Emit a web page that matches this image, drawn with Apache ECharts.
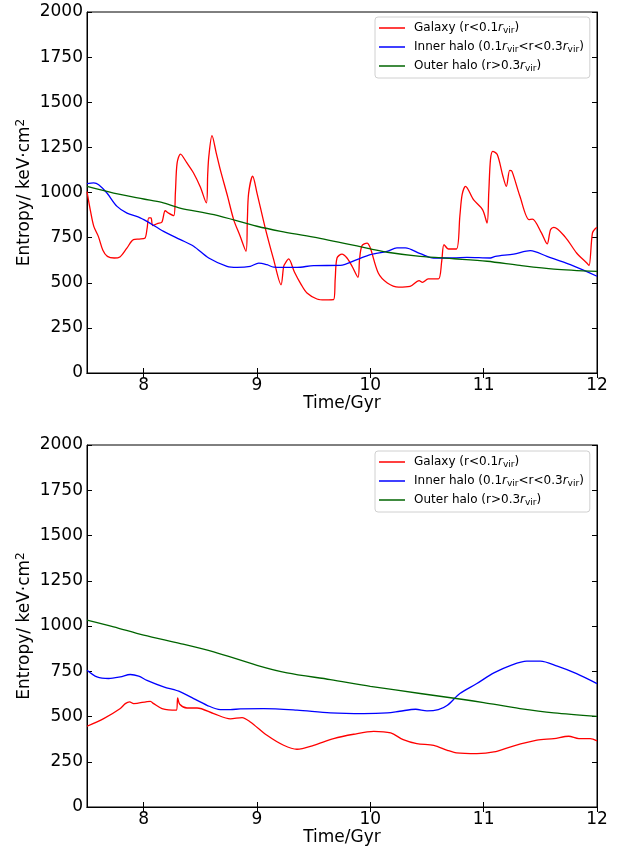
<!DOCTYPE html>
<html>
<head>
<meta charset="utf-8">
<script src="https://cdn.jsdelivr.net/npm/echarts@6/dist/echarts.min.js"></script>
<style>
html,body{margin:0;padding:0;background:#fff;}
#chart{width:622px;height:847px;}
</style>
</head>
<body>
<div id="chart"></div>
<script>
// ---- data (time in Gyr, entropy in keV cm^2) ----
const xTicks = [8, 9, 10, 11, 12];
const yTicks = [0, 250, 500, 750, 1000, 1250, 1500, 1750, 2000];
const seriesNames = ['Galaxy', 'Inner halo', 'Outer halo'];

const topGalaxy = [[7.5,1005],[7.53,900],[7.56,812],[7.6,757],[7.64,680],[7.68,646],[7.74,637],[7.79,643],[7.85,690],[7.91,739],[7.96,742],[8.01,746],[8.03,800],[8.045,859],[8.065,859],[8.08,816],[8.12,828],[8.16,835],[8.19,899],[8.22,886],[8.265,872],[8.28,1000],[8.295,1163],[8.325,1213],[8.38,1165],[8.44,1108],[8.5,1030],[8.553,942],[8.565,1100],[8.575,1200],[8.603,1315],[8.64,1220],[8.676,1127],[8.74,980],[8.794,850],[8.85,760],[8.903,674],[8.915,850],[8.926,995],[8.962,1090],[9.0,997],[9.07,810],[9.147,628],[9.212,489],[9.235,590],[9.25,609],[9.279,632],[9.33,560],[9.39,490],[9.441,443],[9.529,410],[9.6,405],[9.676,406],[9.69,520],[9.706,637],[9.75,659],[9.794,637],[9.84,590],[9.891,530],[9.905,630],[9.926,705],[9.971,720],[10.0,692],[10.07,554],[10.15,499],[10.25,476],[10.35,480],[10.43,512],[10.46,502],[10.51,521],[10.6,521],[10.63,620],[10.65,711],[10.69,687],[10.76,687],[10.79,870],[10.81,988],[10.84,1034],[10.91,960],[10.99,905],[11.03,831],[11.045,1000],[11.06,1182],[11.08,1228],[11.12,1210],[11.17,1090],[11.2,1034],[11.23,1123],[11.25,1117],[11.32,979],[11.4,850],[11.43,853],[11.51,776],[11.56,715],[11.59,794],[11.62,807],[11.72,753],[11.82,665],[11.91,609],[11.93,595],[11.96,776],[11.99,803],[12.0,805]];
const topInner = [[7.5,1049],[7.559,1053],[7.603,1043],[7.676,997],[7.765,923],[7.853,886],[7.956,864],[8.029,840],[8.176,785],[8.324,739],[8.441,702],[8.574,637],[8.735,591],[8.824,585],[8.941,591],[9.015,609],[9.088,600],[9.147,587],[9.353,585],[9.5,595],[9.735,596],[9.882,628],[10.0,656],[10.147,674],[10.235,693],[10.309,693],[10.441,661],[10.559,637],[10.735,637],[10.853,641],[11.059,637],[11.103,646],[11.265,659],[11.412,678],[11.559,646],[11.765,600],[12.0,536]];
const topOuter = [[7.5,1034],[7.735,997],[8.0,964],[8.16,945],[8.32,914],[8.62,877],[9.0,813],[9.21,785],[9.5,753],[10.0,688],[10.15,669],[10.44,646],[10.74,633],[11.03,619],[11.32,596],[11.62,576],[12.0,563]];

const botGalaxy = [[7.5,446],[7.647,488],[7.794,544],[7.838,571],[7.876,581],[7.912,571],[8.059,584],[8.088,571],[8.162,544],[8.288,535],[8.3,603],[8.318,568],[8.382,547],[8.471,547],[8.618,516],[8.765,487],[8.868,494],[8.941,470],[9.088,396],[9.235,341],[9.353,319],[9.5,341],[9.676,378],[9.853,402],[10.03,418],[10.18,409],[10.29,372],[10.41,350],[10.56,341],[10.68,313],[10.76,299],[10.94,295],[11.09,304],[11.26,337],[11.47,369],[11.62,378],[11.75,391],[11.84,378],[11.94,378],[12.0,365]];
const botInner = [[7.5,756],[7.588,719],[7.691,710],[7.794,719],[7.882,732],[7.956,723],[8.029,700],[8.176,664],[8.324,636],[8.441,599],[8.559,562],[8.676,538],[8.765,538],[8.853,542],[9.059,544],[9.353,535],[9.647,520],[9.941,516],[10.15,520],[10.26,529],[10.4,540],[10.5,531],[10.6,538],[10.68,562],[10.79,627],[10.94,682],[11.09,741],[11.24,783],[11.38,806],[11.5,806],[11.65,778],[11.82,737],[12.0,682]];
const botOuter = [[7.5,1032],[7.735,995],[8.0,949],[8.324,903],[8.618,857],[9.0,783],[9.265,741],[9.647,704],[10.0,667],[10.44,627],[10.82,594],[11.0,577],[11.32,544],[11.62,520],[12.0,501]];

// ---- styling ----
const FONT = 'DejaVu Sans';
const colors = {'Galaxy':'#ff0000','Inner halo':'#0000ff','Outer halo':'#006400'};
const legendLabels = {
  'Galaxy': 'Galaxy (r<0.1{i|r}{s|vir})',
  'Inner halo': 'Inner halo (0.1{i|r}{s|vir}<r<0.3{i|r}{s|vir})',
  'Outer halo': 'Outer halo (r>0.3{i|r}{s|vir})'
};

const grids = [
  {left: 87, width: 510, top: 12, height: 361, show: true, borderColor: '#000', borderWidth: 1},
  {left: 87, width: 510, top: 445, height: 362, show: true, borderColor: '#000', borderWidth: 1}
];

function xAxes(gi) {
  return [
    {type:'value', gridIndex: gi, min: 7.5, max: 12, position: 'bottom',
     name: 'Time/Gyr', nameLocation: 'middle', nameGap: 21,
     nameTextStyle: {fontFamily: FONT, fontSize: 17, color: '#000'},
     axisLine: {show: true, lineStyle: {color: '#000', width: 1}},
     axisTick: {show: true, inside: true, length: 5, customValues: xTicks, lineStyle: {color: '#000'}},
     axisLabel: {show: true, customValues: xTicks, margin: 4, fontFamily: FONT, fontSize: 17, color: '#000'},
     splitLine: {show: false}},
    {type:'value', gridIndex: gi, min: 7.5, max: 12, position: 'top',
     axisLine: {show: true, lineStyle: {color: '#000', width: 1}},
     axisTick: {show: true, inside: true, length: 5, customValues: xTicks, lineStyle: {color: '#000'}},
     axisLabel: {show: false}, splitLine: {show: false}}
  ];
}
function yAxes(gi) {
  return [
    {type:'value', gridIndex: gi, min: 0, max: 2000, interval: 250, position: 'left',
     name: 'Entropy/ keV\u00b7cm{sup|2}', nameLocation: 'middle', nameGap: 52, nameRotate: 90,
     nameMoveOverlap: false,
     nameTextStyle: {fontFamily: FONT, fontSize: 17, color: '#000',
       rich: {sup: {fontFamily: FONT, fontSize: 12, color: '#000', padding: [0,0,8,0]}}},
     axisLine: {show: true, lineStyle: {color: '#000', width: 1}},
     axisTick: {show: true, inside: true, length: 5, lineStyle: {color: '#000'}},
     axisLabel: {show: true, margin: 4, fontFamily: FONT, fontSize: 17, color: '#000',
       formatter: function (v) { return String(v); }},
     splitLine: {show: false}},
    {type:'value', gridIndex: gi, min: 0, max: 2000, interval: 250, position: 'right',
     axisLine: {show: true, lineStyle: {color: '#000', width: 1}},
     axisTick: {show: true, inside: true, length: 5, lineStyle: {color: '#000'}},
     axisLabel: {show: false}, splitLine: {show: false}}
  ];
}

function mkSeries(name, data, gi) {
  return {
    type: 'line', name: name, data: data,
    xAxisIndex: gi * 2, yAxisIndex: gi * 2,
    showSymbol: false, symbol: 'none', smooth: 0.3,
    lineStyle: {color: colors[name], width: 1.3},
    itemStyle: {color: colors[name]},
    animation: false, z: 3
  };
}

function mkLegend(top) {
  return {
    show: true, orient: 'vertical', left: 375, top: top,
    data: seriesNames, icon: 'rect', itemWidth: 26, itemHeight: 1.5, itemGap: 6,
    padding: [5, 6, 5, 4],
    backgroundColor: '#fff', borderColor: '#d0d0d0', borderWidth: 1, borderRadius: 3,
    formatter: function (n) { return legendLabels[n]; },
    textStyle: {fontFamily: FONT, fontSize: 12, color: '#000', padding: [0, 0, 0, 4],
      rich: {
        i: {fontFamily: FONT, fontSize: 12, fontStyle: 'italic', color: '#000'},
        s: {fontFamily: FONT, fontSize: 9, color: '#000', padding: [5, 0, 0, 0]}
      }}
  };
}

const option = {
  backgroundColor: '#fff',
  animation: false,
  grid: grids,
  xAxis: xAxes(0).concat(xAxes(1)),
  yAxis: yAxes(0).concat(yAxes(1)),
  legend: [mkLegend(17), mkLegend(451)],
  series: [
    mkSeries('Galaxy', topGalaxy, 0),
    mkSeries('Inner halo', topInner, 0),
    mkSeries('Outer halo', topOuter, 0),
    mkSeries('Galaxy', botGalaxy, 1),
    mkSeries('Inner halo', botInner, 1),
    mkSeries('Outer halo', botOuter, 1)
  ]
};

const chart = echarts.init(document.getElementById('chart'), null, {renderer: 'canvas'});
chart.setOption(option);
</script>
</body>
</html>
